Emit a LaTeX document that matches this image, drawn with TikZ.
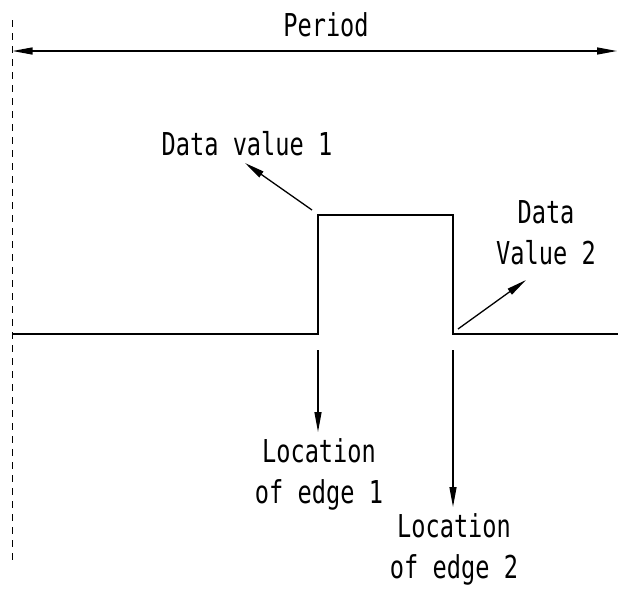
\documentclass[tikz,border=0pt]{standalone}
\usepackage{fontspec}
\usetikzlibrary{arrows.meta}
\newfontfamily\lblfont[FakeStretch=0.75]{DejaVu Sans Mono}
\begin{document}
\begin{tikzpicture}[x=1pt,y=-1pt,
  wire/.style={line width=1.3pt},
  arr/.style={line width=1.3pt,-{Triangle[length=20pt,width=7pt]}},
  lbl/.style={font=\lblfont\fontsize{31.5}{40.5}\selectfont,inner sep=0pt,align=center,anchor=base}]
\useasboundingbox (0,0) rectangle (618,590);
% reference dashed line
\coordinate (vt) at (12.5,20);
\coordinate (vb) at (12.5,563);
\draw[line width=1pt,dash pattern=on 7pt off 6pt] (vt) -- (vb);
% period
\coordinate (pl) at (12.5,51);
\coordinate (pr) at (617,51);
\draw[wire,{Triangle[length=20pt,width=7pt]}-{Triangle[length=20pt,width=7pt]}] (pl) -- (pr);
\node[lbl] (period) at (326,36) {Period};
% signal
\coordinate (s0) at (12.5,334);
\coordinate (r1) at (318,334);
\coordinate (r2) at (318,215);
\coordinate (f1) at (453,215);
\coordinate (f2) at (453,334);
\coordinate (s1) at (618,334);
\draw[wire] (s0) -- (r1) -- (r2) -- (f1) -- (f2) -- (s1);
% data value 1
\node[lbl] (dv1) at (247,155) {Data value 1};
\coordinate (a1s) at (312,210);
\coordinate (a1e) at (245,163);
\draw[arr] (a1s) -- (a1e);
% data value 2
\node[lbl] (dv2) at (546,264) {Data\\Value 2};
\coordinate (a2s) at (458,329);
\coordinate (a2e) at (526,280);
\draw[arr] (a2s) -- (a2e);
% edges
\coordinate (e1s) at (318,350);
\coordinate (e1e) at (318,432);
\draw[arr] (e1s) -- (e1e);
\node[lbl] (le1) at (319,503) {Location\\of edge 1};
\coordinate (e2s) at (453,350);
\coordinate (e2e) at (453,507);
\draw[arr] (e2s) -- (e2e);
\node[lbl] (le2) at (454,578) {Location\\of edge 2};
\end{tikzpicture}
\end{document}
